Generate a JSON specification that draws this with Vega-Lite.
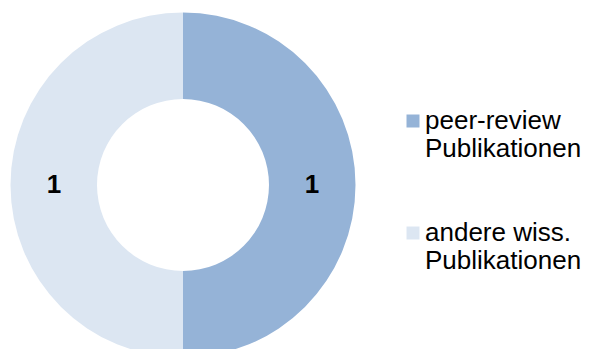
{
  "$schema": "https://vega.github.io/schema/vega-lite/v6.json",
  "width": 366,
  "height": 370,
  "autosize": {"type": "none"},
  "padding": {"left": 0, "top": 0, "right": 223, "bottom": 0},
  "background": "white",
  "view": {"stroke": null},
  "data": {
    "values": [
      {"category": "peer-review Publikationen", "count": 1},
      {"category": "andere wiss. Publikationen", "count": 1}
    ]
  },
  "encoding": {
    "theta": {"field": "count", "type": "quantitative", "stack": true},
    "order": {"field": "category", "sort": "descending"}
  },
  "layer": [
    {
      "mark": {"type": "arc", "outerRadius": 172.5, "innerRadius": 86},
      "encoding": {
        "color": {
          "field": "category",
          "type": "nominal",
          "scale": {
            "domain": ["peer-review Publikationen", "andere wiss. Publikationen"],
            "range": ["#95B3D7", "#DCE6F2"]
          },
          "legend": {
            "title": null,
            "orient": "none",
            "legendX": 400,
            "legendY": 108,
            "padding": 0,
            "symbolType": "square",
            "symbolSize": 169,
            "symbolStrokeWidth": 0,
            "symbolOpacity": 1,
            "labelFont": "Liberation Sans",
            "labelFontSize": 26,
            "labelColor": "#000000",
            "labelLineHeight": 30,
            "labelLimit": 300,
            "labelOffset": -1,
            "labelBaseline": "alphabetic",
            "rowPadding": 58,
            "labelExpr": "[replace(datum.label, ' Publikationen', ''), 'Publikationen']",
            "encode": {"labels": {"update": {"dy": {"value": 8}}}}
          }
        }
      }
    },
    {
      "mark": {
        "type": "text",
        "radius": 129,
        "font": "Liberation Sans",
        "fontSize": 26,
        "fontWeight": "bold",
        "color": "#000000",
        "baseline": "middle",
        "align": "center"
      },
      "encoding": {
        "text": {"field": "count", "type": "quantitative"}
      }
    }
  ]
}
